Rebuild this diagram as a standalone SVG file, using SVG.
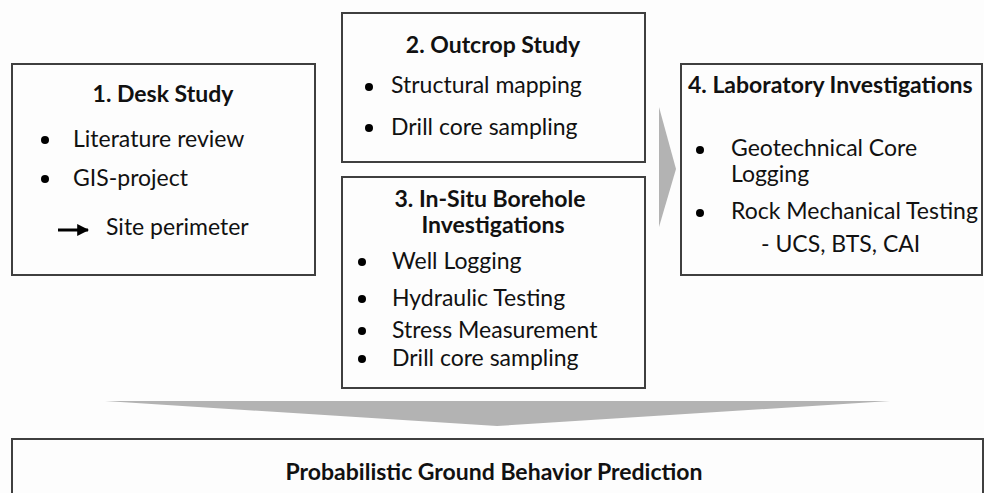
<svg xmlns="http://www.w3.org/2000/svg" width="984" height="493" viewBox="0 0 984 493">
<style>
.box{fill:#fdfdfd;stroke:#3f3f3f;stroke-width:2}
.t{font-family:Lato,"Open Sans","Liberation Sans",sans-serif;font-size:23px;fill:#111}
.b{font-family:Lato,"Open Sans","Liberation Sans",sans-serif;font-size:23px;font-weight:bold;fill:#111}
.c{text-anchor:middle}
.arr{fill:#b3b3b3}
</style>
<defs>
<marker id="ah" viewBox="0 0 10 10" refX="9" refY="5" markerWidth="4" markerHeight="4" orient="auto"><path d="M0,0 L10,5 L0,10 z" fill="#000"/></marker>
</defs>
<rect width="984" height="493" fill="#fdfdfd"/>
<g id="connectors">
<polygon class="arr" points="659,107 676,169 659,227"/>
<polygon class="arr" points="105,401 890,401 497,426"/>
</g>
<g id="desk-study">
<rect class="box" x="12" y="64" width="303" height="211"/>
<text class="b c" x="163" y="102">1. Desk Study</text>
<circle cx="45" cy="140" r="4"/>
<text class="t" x="73" y="147">Literature review</text>
<circle cx="45" cy="179" r="4"/>
<text class="t" x="73" y="186">GIS-project</text>
<line x1="58" y1="230" x2="88" y2="230" stroke="#000" stroke-width="3" marker-end="url(#ah)"/>
<text class="t" x="106" y="235">Site perimeter</text>
</g>
<g id="outcrop-study">
<rect class="box" x="342" y="13" width="303" height="149"/>
<text class="b c" x="493" y="53">2. Outcrop Study</text>
<circle cx="369" cy="87" r="4"/>
<text class="t" x="391" y="93">Structural mapping</text>
<circle cx="369" cy="128" r="4"/>
<text class="t" x="391" y="135">Drill core sampling</text>
</g>
<g id="borehole">
<rect class="box" x="342" y="177" width="303" height="211"/>
<text class="b c" x="490" y="207">3. In-Situ Borehole</text>
<text class="b c" x="493" y="233">Investigations</text>
<circle cx="362" cy="262" r="4"/>
<text class="t" x="392" y="269">Well Logging</text>
<circle cx="362" cy="299" r="4"/>
<text class="t" x="392" y="306">Hydraulic Testing</text>
<circle cx="362" cy="331" r="4"/>
<text class="t" x="392" y="338">Stress Measurement</text>
<circle cx="362" cy="359" r="4"/>
<text class="t" x="392" y="366">Drill core sampling</text>
</g>
<g id="laboratory">
<rect class="box" x="681" y="64" width="301" height="211"/>
<text class="b" x="688" y="93">4. Laboratory Investigations</text>
<circle cx="700" cy="150" r="4"/>
<text class="t" x="731" y="156">Geotechnical Core</text>
<text class="t" x="731" y="182">Logging</text>
<circle cx="700" cy="213" r="4"/>
<text class="t" x="731" y="219">Rock Mechanical Testing</text>
<text class="t" x="761" y="252">- UCS, BTS, CAI</text>
</g>
<g id="prediction">
<rect class="box" x="12" y="439" width="971" height="70"/>
<text class="b c" x="494" y="480">Probabilistic Ground Behavior Prediction</text>
</g>
</svg>
